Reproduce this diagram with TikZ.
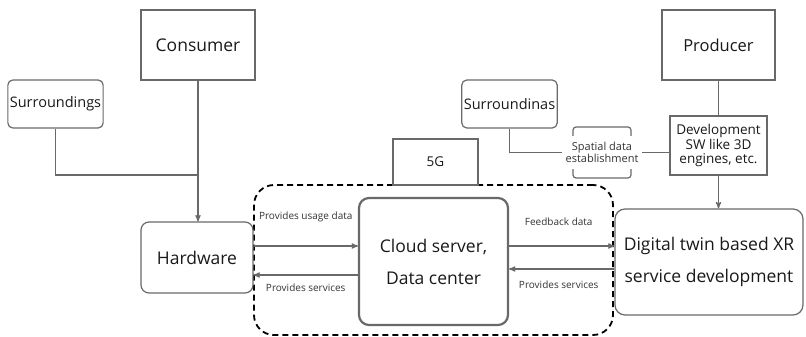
\documentclass[tikz,border=0pt]{standalone}
\usepackage{fontspec}
\setmainfont{Open Sans}
\usetikzlibrary{arrows,calc}
\definecolor{linegray}{RGB}{105,105,105}

\begin{document}
\begin{tikzpicture}[x=1pt,y=-1pt,>=stealth',
    box/.style={draw=linegray,line width=1.2pt,align=center,inner sep=2pt,text=black!90},
    rbox/.style={box,rounded corners=8pt},
    conn/.style={draw=linegray,line width=1.2pt},
    lbl/.style={font=\fontsize{10}{11}\selectfont,text=black!80},
    big/.style={font=\fontsize{17.5}{32}\selectfont}]
\useasboundingbox (0,0) rectangle (806,337);

% dashed zone round the cloud
\node[draw,line width=1.8pt,dash pattern=on 6pt off 4pt,rounded corners=20pt,
    minimum width=359,minimum height=150] (zone) at (433.5,260) {};

% draw the boxes
\node[box,minimum width=114,minimum height=70,font=\fontsize{17.5}{20}\selectfont] (consumer) at (198,45) {Consumer};
\node[box,minimum width=113,minimum height=70,font=\fontsize{16.5}{20}\selectfont] (producer) at (718.5,45) {Producer};
\node[rbox,rounded corners=5pt,minimum width=95,minimum height=48,font=\fontsize{14.5}{17}\selectfont] (surrL) at (55.5,104) {Surroundings};
\node[rbox,rounded corners=5pt,minimum width=95,minimum height=48,font=\fontsize{14.5}{17}\selectfont] (surrR) at (509.5,104) {Surroundinas};
\node[box,minimum width=97,minimum height=59,inner sep=1pt,font=\fontsize{13.5}{14.5}\selectfont] (dev) at (718.5,145.5) {Development\\SW like 3D\\engines, etc.};
\node[box,minimum width=85,minimum height=46,font=\fontsize{13.5}{16}\selectfont] (fiveg) at (435.5,162) {5G};
\node[rbox,big,minimum width=112,minimum height=71] (hardware) at (197,257.5) {Hardware};
\node[rbox,big,rounded corners=10pt,line width=2.2pt,minimum width=149,minimum height=127] (cloud) at (433.5,261.5) {Cloud server,\\Data center};
\node[rbox,big,rounded corners=10pt,minimum width=188,minimum height=106] (dt) at (709,262) {Digital twin based XR\\service development};
\node[box,rounded corners=3pt,minimum width=58,minimum height=51] (spatial) at (602,152.5) {};

% consumer side
\coordinate (join) at (consumer.south |- 0,175);
\draw[conn] (surrL.south) |- (join);
\draw[conn,->] (consumer.south) -- (consumer.south |- hardware.north);

% producer side
\coordinate (devin) at (dev.west |- spatial.center);
\draw[conn] (surrR.south) |- (devin);
\node[lbl,fill=white,align=center,inner sep=1pt,minimum width=80,minimum height=33,font=\fontsize{11}{10.5}\selectfont] (spatiallbl) at (spatial) {Spatial data\\establishment};
\draw[conn] (producer.south) -- (dev.north);
\draw[conn,->] (dev.south) -- (dev.south |- dt.north);

% data flows
\draw[conn,->] (hardware.east |- 0,246) -- (cloud.west |- 0,246) node[lbl,midway,yshift=29pt]{Provides usage data};
\draw[conn,->] (cloud.west |- 0,275) -- (hardware.east |- 0,275) node[lbl,midway,yshift=-13pt]{Provides services};
\draw[conn,->] (cloud.east |- 0,246) -- (dt.west |- 0,246) node[lbl,midway,xshift=-3pt,yshift=24pt]{Feedback data};
\draw[conn,->] (dt.west |- 0,269) -- (cloud.east |- 0,269) node[lbl,midway,xshift=-3pt,yshift=-16pt]{Provides services};

\end{tikzpicture}
\end{document}
